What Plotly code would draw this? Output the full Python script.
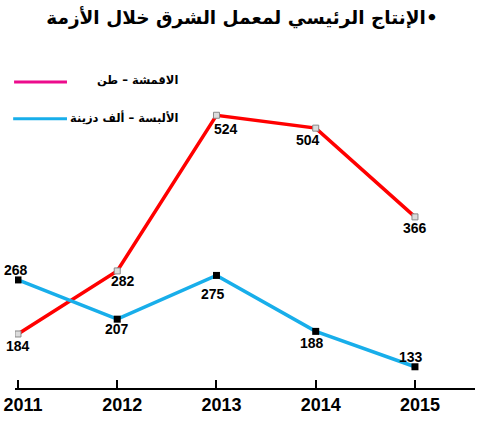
import plotly.graph_objects as go

# production data
years = [2011, 2012, 2013, 2014, 2015]
fabrics_tons = [184, 282, 524, 504, 366]          # الاقمشة – طن
clothes_k_dozen = [268, 207, 275, 188, 133]       # الألبسة – ألف دزينة
year_labels = ["2011", "2012", "2013", "2014", "2015"]

# RLM in front so the bullet stays on the right like the original
title_text = "\u200f•الإنتاج الرئيسي لمعمل الشرق خلال الأزمة"
fabrics_name = "الاقمشة – طن"
clothes_name = "الألبسة – ألف دزينة"

# label offsets in pixels (x, y), positive y = up
fabrics_offsets = [(0, -12), (6, -10), (10, -14), (-8, -12), (0, -11)]
clothes_offsets = [(-2, 10), (0, -10), (-3, -19), (-4, -12), (-4, 10)]

RED = "#ff0000"
BLUE = "#18aeea"
PINK = "#ec0b8c"

fig = go.Figure()

fig.add_trace(go.Scatter(
    x=years, y=fabrics_tons, mode="lines+markers",
    line=dict(color=RED, width=3.5),
    marker=dict(symbol="square", size=6, color="#dcdcdc",
                line=dict(color="#888888", width=1)),
    name=fabrics_name, showlegend=False
))

fig.add_trace(go.Scatter(
    x=years, y=clothes_k_dozen, mode="lines+markers",
    line=dict(color=BLUE, width=3.5),
    marker=dict(symbol="square", size=7, color="black"),
    name=clothes_name, showlegend=False
))

num_font = dict(family="Liberation Sans, Arial, sans-serif", size=14, color="black")

for series, offsets in [(fabrics_tons, fabrics_offsets), (clothes_k_dozen, clothes_offsets)]:
    for x, v, (dx, dy) in zip(years, series, offsets):
        fig.add_annotation(x=x, y=v, text="<b>%d</b>" % v, showarrow=False,
                           xshift=dx, yshift=dy, font=num_font)

# legend drawn by hand (lines left, labels right-aligned)
fig.add_shape(type="line", xref="paper", yref="paper",
              x0=-0.002, x1=0.113, y0=0.879, y1=0.879,
              line=dict(color=PINK, width=3))
fig.add_shape(type="line", xref="paper", yref="paper",
              x0=-0.004, x1=0.113, y0=0.774, y1=0.774,
              line=dict(color=BLUE, width=3))

leg_font = dict(family="DejaVu Sans", size=11.5, color="black")
fig.add_annotation(xref="paper", yref="paper", x=0.359, y=0.885, text="<b>%s</b>" % fabrics_name,
                   showarrow=False, xanchor="right", yanchor="middle", font=leg_font)
fig.add_annotation(xref="paper", yref="paper", x=0.359, y=0.776, text="<b>%s</b>" % clothes_name,
                   showarrow=False, xanchor="right", yanchor="middle", font=leg_font)

fig.update_layout(
    width=484, height=427,
    margin=dict(l=15, r=9, t=40, b=39),
    paper_bgcolor="white", plot_bgcolor="white",
    title=dict(text="<b>%s</b>" % title_text, x=0.5, xanchor="center",
               y=0.958, yanchor="middle",
               font=dict(family="DejaVu Sans", size=18.5, color="black")),
    xaxis=dict(
        range=[2010.97, 2015.605],
        tickvals=years, ticktext=year_labels,
        showgrid=False, zeroline=False, automargin=False,
        showline=True, linecolor="black", linewidth=1.5,
        ticks="inside", ticklen=8, tickcolor="black", tickwidth=1.5,
        ticklabelshift=5, ticklabelstandoff=0, ticklabeloverflow="allow",
        tickfont=dict(family="Liberation Sans, Arial, sans-serif",
                      size=18, color="black", weight="bold"),
    ),
    yaxis=dict(
        range=[100, 641], automargin=False,
        showgrid=False, zeroline=False, showline=False,
        showticklabels=False, ticks="",
    ),
)

# drop the default 8px page margin so the figure sits at the window corner
fig.write_html("out.html", config={"displayModeBar": False},
               post_script="document.body.style.margin='0';")
